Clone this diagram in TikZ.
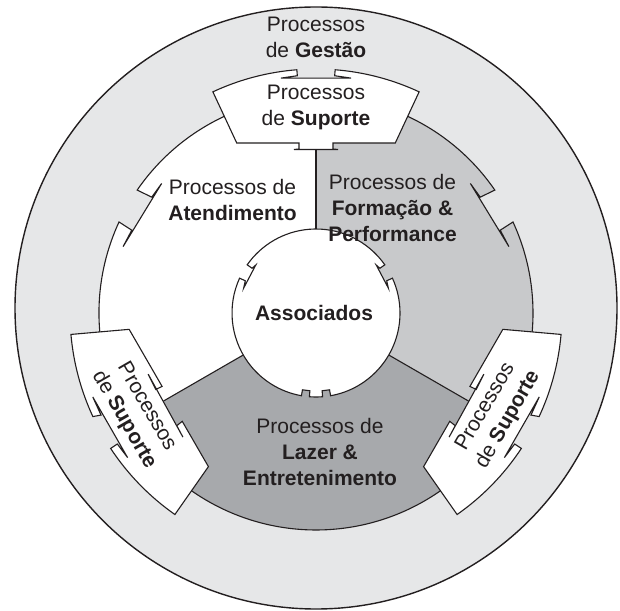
\documentclass[tikz,border=0pt]{standalone}
\usepackage{fontspec}
\setmainfont{Liberation Sans}
\definecolor{outerfill}{HTML}{E6E7E8}
\definecolor{formfill}{HTML}{C8C9CB}
\definecolor{lazfill}{HTML}{A7A9AC}
\definecolor{ink}{HTML}{231F20}
\begin{document}
\begin{tikzpicture}[x=1pt,y=1pt,line join=miter,
  outline/.style={draw=ink,line width=1.1pt},
  bannerbox/.style={fill=white,draw=ink,line width=1.1pt},
  lbl/.style={text=ink,font=\fontsize{21}{26}\selectfont,align=center,inner sep=0pt}]
\useasboundingbox (0,0) rectangle (620,610);
% outer ring
\coordinate (oc) at (316,302);
\fill[outerfill] (oc) circle[radius=301];
\draw[ink,line width=1.4pt] (oc) circle[radius=301];
\begin{scope}[shift={(316,297)}]
  \coordinate (c) at (0,0);
  \def\ringpath{(0:217) arc[start angle=0,end angle=24.8,radius=217] -- (24.2:202) -- (19:204) -- (40:201.5) -- (35.2:201) -- (34.5:217)
    arc[start angle=34.5,end angle=145.5,radius=217] -- (144.8:201) -- (140:201.5) -- (161:204) -- (155.8:202) -- (155.2:217)
    arc[start angle=155.2,end angle=360,radius=217] -- cycle}
  \fill[white] \ringpath;
  \begin{scope}
    \clip \ringpath;
    \fill[formfill] (c) -- (-30:300) arc[start angle=-30,end angle=90,radius=300] -- cycle;
    \fill[lazfill] (c) -- (210:300) arc[start angle=210,end angle=330,radius=300] -- cycle;
  \end{scope}
  \draw[outline] \ringpath;
  % dividing lines
  \coordinate (s1a) at (90:84);  \coordinate (s1b) at (90:175);
  \coordinate (s2a) at (210:84); \coordinate (s2b) at (210:180);
  \coordinate (s3a) at (330:84); \coordinate (s3b) at (330:180);
  \draw[outline] (s1a) -- (s1b);
  \draw[outline] (s2a) -- (s2b);
  \draw[outline] (s3a) -- (s3b);
  % inner circle
  \path[fill=white,outline] (0:84) arc[start angle=0,end angle=24.5,radius=84] -- (24.5:77.7) -- (19:76.5) -- (38.5:77) -- (35:78) -- (35:84)
    arc[start angle=35,end angle=145,radius=84] -- (145:78) -- (141.5:77) -- (161:76.5) -- (155.5:77.7) -- (155.5:84)
    arc[start angle=155.5,end angle=260,radius=84] -- (260:78) -- (265.5:78) -- (265.5:84)
    arc[start angle=265.5,end angle=274.5,radius=84] -- (274.5:78) -- (280:78) -- (280:84)
    arc[start angle=280,end angle=360,radius=84] -- cycle;
  % top banner
  \path[bannerbox] (115:187.6) -- (115:244) arc[start angle=115,end angle=94.5,radius=244] -- (94.5:238) -- (98.5:237.5) -- (81.5:237.5) -- (85.5:238) -- (85.5:244)
    arc[start angle=85.5,end angle=65,radius=244] -- (65:187.6) -- (17,170) -- (17,164) -- (22,163.5) -- (-22,163.5) -- (-17,164) -- (-17,170) -- cycle;
  % lower banners
  \def\bannerLL{(185:{170/cos(25)}) -- (185:246) arc[start angle=185,end angle=204.9,radius=246] -- (205.4:238) -- (200.6:238.5) -- (217.5:237.5) -- (213.4:238) -- (213.4:246)
    arc[start angle=213.4,end angle=235,radius=246] -- (235:{170/cos(25)}) -- (219:{170/cos(9)}) -- (219:{170/cos(9)+7}) -- (223:{170/cos(13)+7.5}) -- (200:{170/cos(10)+6}) -- (205.5:{170/cos(4.5)+7}) -- (205.5:{170/cos(4.5)}) -- cycle}
  \path[bannerbox] \bannerLL;
  \begin{scope}[xscale=-1]
    \path[bannerbox] \bannerLL;
  \end{scope}
  % texts
  \node[lbl] (assoc) at (-2,0.5) {\bfseries Associados};
  \node[lbl] (supT) at (90:206) {Processos\\de \textbf{Suporte}};
  \node[lbl,rotate=-60] (supL) at (209:207) {Processos\\de \textbf{Suporte}};
  \node[lbl,rotate=60] (supR) at (331:207) {Processos\\de \textbf{Suporte}};
\end{scope}
\node[lbl] (gest) at (316,573) {Processos\\de \textbf{Gestão}};
\node[lbl] (atend) at (232.5,410) {Processos de\\\textbf{Atendimento}};
\node[lbl] (form) at (392.5,402) {Processos de\\\textbf{Formação \&}\\\textbf{Performance}};
\node[lbl] (lazer) at (320,158) {Processos de\\\textbf{Lazer \&}\\\textbf{Entretenimento}};
\end{tikzpicture}
\end{document}
